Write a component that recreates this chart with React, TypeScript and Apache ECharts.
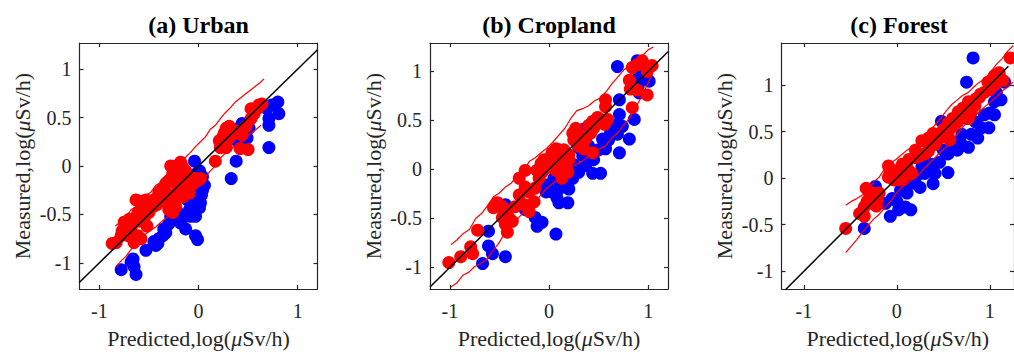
import React, { useEffect, useRef } from "react";
import * as echarts from "echarts";

const titles = ["(a) Urban", "(b) Cropland", "(c) Forest"];
const xTicks = [-1, 0, 1];
const yTicks = [-1, -0.5, 0, 0.5, 1];
const xRanges = [[-1.2, 1.2], [-1.2, 1.2], [-1.24, 1.26]];
const yRanges = [[-1.27, 1.27], [-1.22, 1.29], [-1.19, 1.45]];
const diagonal = [[-1.2, -1.2], [1.2, 1.2]];

const urbanRed = [
  [-0.87, -0.8], [-0.83, -0.79], [-0.78, -0.72], [-0.75, -0.69], [-0.71, -0.62], [-0.68, -0.59], [-0.65, -0.54],
  [-0.61, -0.48], [-0.58, -0.45], [-0.63, -0.35], [-0.58, -0.37], [-0.53, -0.35], [-0.5, -0.38], [-0.55, -0.45],
  [-0.6, -0.57], [-0.61, -0.72], [-0.58, -0.75], [-0.65, -0.79], [-0.71, -0.72], [-0.68, -0.64], [-0.77, -0.67],
  [-0.5, -0.48], [-0.46, -0.42], [-0.41, -0.32], [-0.4, -0.27], [-0.36, -0.23], [-0.33, -0.18], [-0.3, -0.15],
  [-0.26, -0.08], [-0.28, 0.0], [-0.23, 0.0], [-0.18, 0.04], [-0.16, -0.01], [-0.13, -0.05], [-0.19, -0.11],
  [-0.23, -0.18], [-0.14, -0.15], [-0.11, -0.11], [-0.18, -0.25], [-0.24, -0.3], [-0.28, -0.38], [-0.3, -0.45],
  [-0.26, -0.48], [-0.23, -0.42], [-0.16, -0.32], [-0.09, -0.28], [-0.04, -0.13], [-0.01, -0.15], [0.02, -0.13],
  [0.17, 0.05], [0.21, 0.26], [0.24, 0.29], [0.26, 0.34], [0.28, 0.39], [0.31, 0.41], [0.34, 0.32], [0.22, 0.19],
  [0.28, 0.19], [0.42, 0.18], [0.5, 0.17], [0.48, 0.41], [0.53, 0.49], [0.56, 0.54], [0.53, 0.59], [0.61, 0.63],
  [0.64, 0.64], [0.38, 0.36], [0.44, 0.32],
  [-0.45, -0.35], [-0.42, -0.4], [-0.38, -0.3], [-0.35, -0.36], [-0.32, -0.28], [-0.2, -0.3], [-0.12, -0.2],
  [-0.08, -0.12], [-0.05, -0.18], [-0.2, -0.05], [-0.7, -0.55], [-0.75, -0.58], [-0.55, -0.55], [-0.52, -0.62],
  [0.25, 0.25], [0.3, 0.28], [0.6, 0.6],
];
const urbanBlue = [
  [-0.78, -1.07], [-0.68, -0.99], [-0.65, -1.04], [-0.63, -1.12], [-0.66, -0.96], [-0.53, -0.87], [-0.43, -0.82],
  [-0.4, -0.75], [-0.36, -0.72], [-0.33, -0.69], [-0.41, -0.8], [-0.3, -0.6], [-0.28, -0.52], [-0.26, -0.45],
  [-0.21, -0.48], [-0.18, -0.59], [-0.13, -0.65], [-0.03, -0.72], [-0.01, -0.76], [-0.04, 0.05], [0.01, -0.05],
  [0.04, -0.11], [0.02, -0.18], [-0.01, -0.25], [0.01, -0.32], [-0.03, -0.38], [-0.06, -0.42], [-0.09, -0.45],
  [-0.11, -0.35], [-0.06, -0.28], [0.04, -0.25], [0.06, -0.2], [0.01, -0.43], [-0.08, -0.52], [-0.14, -0.52],
  [-0.03, -0.52], [0.38, 0.05], [0.33, -0.13], [0.41, 0.39], [0.44, 0.44], [0.44, 0.29], [0.39, 0.26],
  [0.51, 0.39], [0.46, 0.21], [0.71, 0.19], [0.71, 0.42], [0.71, 0.49], [0.74, 0.63], [0.8, 0.66], [0.81, 0.54],
  [0.69, 0.59], [0.49, 0.29],
  [-0.02, -0.08], [0.0, -0.15], [0.03, -0.3], [-0.04, -0.35], [-0.08, -0.33], [0.02, -0.38], [-0.05, -0.47],
  [-0.1, -0.5], [-0.2, -0.55], [-0.35, -0.65], [-0.45, -0.78], [0.45, 0.35], [0.42, 0.25],
];
const urbanUpper = [
  [-0.84, -0.62], [-0.8, -0.59], [-0.76, -0.53], [-0.72, -0.51], [-0.68, -0.45], [-0.63, -0.42], [-0.58, -0.37],
  [-0.53, -0.3], [-0.48, -0.27], [-0.43, -0.2], [-0.38, -0.17], [-0.33, -0.1], [-0.28, -0.06], [-0.23, 0.0],
  [-0.18, 0.05], [-0.13, 0.09], [-0.08, 0.14], [-0.03, 0.2], [0.02, 0.25], [0.07, 0.3], [0.12, 0.38], [0.17, 0.42],
  [0.22, 0.49], [0.27, 0.55], [0.32, 0.6], [0.37, 0.66], [0.42, 0.7], [0.47, 0.74], [0.52, 0.78], [0.57, 0.82],
  [0.62, 0.86], [0.66, 0.9],
];
const urbanLower = [
  [-0.83, -1.04], [-0.78, -0.98], [-0.73, -0.93], [-0.68, -0.86], [-0.63, -0.8], [-0.58, -0.76], [-0.53, -0.7],
  [-0.48, -0.66], [-0.43, -0.63], [-0.38, -0.58], [-0.33, -0.54], [-0.28, -0.48], [-0.23, -0.42], [-0.18, -0.37],
  [-0.13, -0.31], [-0.08, -0.27], [-0.03, -0.21], [0.02, -0.17], [0.07, -0.11], [0.12, -0.05], [0.17, 0.0],
  [0.22, 0.08], [0.27, 0.13], [0.32, 0.17], [0.37, 0.21], [0.42, 0.24], [0.47, 0.29], [0.52, 0.33], [0.57, 0.37],
  [0.63, 0.42],
];

const croplandRed = [
  [-1.01, -0.95], [-0.89, -0.89], [-0.79, -0.79], [-0.77, -0.86], [-0.72, -0.62], [-0.56, -0.39], [-0.52, -0.34],
  [-0.47, -0.38], [-0.42, -0.43], [-0.47, -0.49], [-0.44, -0.56], [-0.42, -0.64], [-0.37, -0.53], [-0.34, -0.38],
  [-0.3, -0.26], [-0.24, -0.18], [-0.2, -0.23], [-0.15, -0.33], [-0.14, -0.19], [-0.1, -0.09], [-0.07, -0.03],
  [-0.03, 0.04], [0.0, 0.11], [0.03, 0.17], [0.07, 0.21], [0.13, 0.14], [0.17, 0.04], [0.19, -0.03], [0.1, 0.07],
  [0.07, -0.01], [0.13, -0.09], [-0.08, 0.06], [-0.12, -0.01], [-0.24, -0.01], [-0.3, -0.09], [0.24, 0.37],
  [0.27, 0.42], [0.3, 0.34], [0.37, 0.31], [0.42, 0.37], [0.44, 0.49], [0.49, 0.53], [0.52, 0.51], [0.56, 0.46],
  [0.59, 0.51], [0.35, 0.21], [0.3, 0.24], [0.44, 0.17], [0.57, 0.71], [0.57, 0.64], [0.81, 0.91], [0.82, 0.82],
  [0.84, 1.04], [0.89, 1.07], [0.94, 1.11], [1.04, 1.06], [0.99, 1.0], [0.89, 0.81], [0.84, 0.63], [0.99, 0.76],
  [-0.2, -0.43], [-0.25, -0.36],
  [-0.45, -0.45], [-0.4, -0.5], [-0.05, 0.0], [0.0, 0.05], [0.05, 0.1], [0.1, 0.2], [0.15, 0.2], [0.2, 0.15],
  [0.25, 0.3], [0.35, 0.35], [0.4, 0.45], [0.45, 0.42], [-0.05, 0.1], [0.15, 0.0], [0.2, 0.1],
];
const croplandBlue = [
  [-0.67, -0.96], [-0.61, -0.78], [-0.57, -0.86], [-0.44, -0.89], [-0.61, -0.63], [-0.44, -0.36], [-0.24, -0.41],
  [-0.14, -0.49], [-0.12, -0.58], [-0.07, -0.54], [0.07, -0.66], [-0.03, -0.23], [-0.02, -0.16], [0.03, -0.23],
  [0.08, -0.29], [0.1, -0.34], [0.19, -0.34], [0.05, -0.09], [0.12, -0.16], [-0.12, -0.01], [0.17, -0.13],
  [0.24, -0.09], [0.3, -0.03], [0.37, 0.04], [0.44, -0.04], [0.52, -0.04], [0.34, 0.14], [0.3, 0.22], [0.4, 0.24],
  [0.35, 0.41], [0.54, 0.31], [0.57, 0.21], [0.62, 0.37], [0.69, 0.36], [0.81, 0.31], [0.71, 0.17], [0.74, 0.44],
  [0.71, 0.56], [0.86, 0.51], [0.91, 0.78], [1.01, 0.9], [0.98, 0.94], [0.91, 0.97], [0.69, 1.05], [0.89, 1.11],
  [0.71, 0.71],
  [0.1, -0.2], [0.2, -0.2], [0.25, 0.05], [0.45, 0.1], [0.5, 0.2], [0.6, 0.3], [0.65, 0.45], [0.9, 0.85],
  [0.95, 1.0],
];
const croplandUpper = [
  [-0.99, -0.77], [-0.93, -0.72], [-0.86, -0.65], [-0.8, -0.61], [-0.74, -0.5], [-0.68, -0.45], [-0.62, -0.37],
  [-0.56, -0.28], [-0.5, -0.24], [-0.44, -0.18], [-0.38, -0.14], [-0.32, -0.06], [-0.26, -0.02], [-0.2, 0.08],
  [-0.14, 0.12], [-0.08, 0.17], [-0.02, 0.22], [0.04, 0.28], [0.1, 0.35], [0.16, 0.42], [0.22, 0.52], [0.28, 0.6],
  [0.34, 0.62], [0.4, 0.65], [0.46, 0.7], [0.52, 0.73], [0.58, 0.8], [0.64, 0.88], [0.7, 0.95], [0.76, 1.02],
  [0.82, 1.07], [0.88, 1.12], [0.94, 1.16], [1.0, 1.22], [1.05, 1.25],
];
const croplandLower = [
  [-0.99, -1.2], [-0.93, -1.16], [-0.87, -1.08], [-0.81, -1.05], [-0.75, -0.99], [-0.69, -0.96], [-0.63, -0.92],
  [-0.57, -0.83], [-0.51, -0.76], [-0.45, -0.66], [-0.39, -0.6], [-0.33, -0.52], [-0.27, -0.45], [-0.21, -0.4],
  [-0.15, -0.35], [-0.09, -0.27], [-0.03, -0.2], [0.03, -0.15], [0.09, -0.1], [0.15, -0.06], [0.21, 0.01],
  [0.27, 0.05], [0.33, 0.08], [0.39, 0.13], [0.45, 0.17], [0.51, 0.21], [0.57, 0.24], [0.63, 0.32], [0.69, 0.37],
  [0.75, 0.45], [0.81, 0.52], [0.87, 0.62], [0.93, 0.74], [0.98, 0.84], [1.04, 0.97],
];

const forestRed = [
  [-0.55, -0.54], [-0.4, -0.38], [-0.35, -0.41], [-0.33, -0.11], [-0.3, -0.15], [-0.26, -0.16], [-0.32, -0.25],
  [-0.26, -0.27], [-0.21, -0.24], [-0.19, -0.16], [-0.35, -0.31], [-0.09, 0.13], [-0.07, 0.06], [-0.01, 0.08],
  [-0.09, 0.01], [-0.03, -0.02], [0.04, -0.02], [0.07, 0.01], [0.06, 0.15], [0.09, 0.1], [0.13, 0.08], [0.16, 0.05],
  [0.13, 0.2], [0.2, 0.22], [0.25, 0.24], [0.3, 0.26], [0.34, 0.29], [0.27, 0.4], [0.34, 0.43], [0.39, 0.48],
  [0.48, 0.47], [0.41, 0.36], [0.55, 0.47], [0.57, 0.41], [0.6, 0.64], [0.66, 0.71], [0.71, 0.75], [0.77, 0.82],
  [0.8, 0.71], [0.84, 0.78], [0.89, 0.87], [0.94, 0.92], [0.98, 1.03], [1.05, 1.1], [1.1, 1.13], [1.14, 1.05],
  [0.77, 0.64], [0.7, 0.68], [1.22, 1.29], [0.55, 0.59], [0.5, 0.52],
  [0.0, 0.05], [0.05, 0.1], [0.1, 0.15], [0.2, 0.3], [0.35, 0.35], [0.45, 0.42], [0.6, 0.55], [0.65, 0.6],
  [0.75, 0.7], [0.85, 0.85], [0.9, 0.9], [1.0, 0.95], [1.05, 1.0], [-0.28, -0.2], [-0.22, -0.3],
];
const forestBlue = [
  [-0.35, -0.54], [-0.23, -0.09], [-0.07, -0.41], [0.02, -0.34], [0.09, -0.31], [0.15, -0.34], [0.0, -0.25],
  [0.11, -0.16], [0.04, -0.13], [0.2, -0.06], [0.22, 0.03], [0.27, 0.12], [0.3, 0.05], [0.39, -0.06], [0.41, 0.05],
  [0.38, 0.15], [0.46, 0.17], [0.55, 0.06], [0.55, 0.26], [0.59, 0.33], [0.62, 0.36], [0.68, 0.4], [0.7, 0.47],
  [0.77, 0.33], [0.8, 0.47], [0.91, 0.54], [0.87, 0.43], [0.99, 0.54], [0.94, 0.68], [1.05, 0.68], [1.05, 0.82],
  [1.12, 0.84], [1.07, 0.92], [0.75, 1.03], [0.82, 1.29], [0.75, 0.64], [0.48, 0.61], [1.16, 1.03], [-0.12, -0.27],
  [-0.05, -0.22],
  [0.3, 0.2], [0.5, 0.3], [0.65, 0.3], [0.7, 0.35], [0.85, 0.6], [1.0, 0.7], [0.15, -0.05], [0.25, -0.1],
];
const forestUpper = [
  [-0.55, -0.29], [-0.49, -0.25], [-0.43, -0.22], [-0.37, -0.18], [-0.31, -0.14], [-0.25, -0.04], [-0.19, 0.01],
  [-0.13, 0.1], [-0.07, 0.16], [-0.01, 0.2], [0.05, 0.25], [0.11, 0.3], [0.17, 0.34], [0.23, 0.38], [0.29, 0.45],
  [0.35, 0.51], [0.41, 0.57], [0.47, 0.64], [0.53, 0.72], [0.59, 0.79], [0.65, 0.84], [0.71, 0.89], [0.77, 0.92],
  [0.83, 0.98], [0.89, 1.03], [0.95, 1.07], [1.01, 1.14], [1.07, 1.22], [1.13, 1.28], [1.19, 1.36], [1.25, 1.42],
];
const forestLower = [
  [-0.55, -0.8], [-0.49, -0.73], [-0.43, -0.66], [-0.37, -0.58], [-0.31, -0.51], [-0.25, -0.44], [-0.19, -0.39],
  [-0.13, -0.32], [-0.07, -0.25], [-0.01, -0.17], [0.05, -0.1], [0.11, -0.06], [0.17, -0.01], [0.23, 0.03],
  [0.29, 0.1], [0.35, 0.16], [0.41, 0.22], [0.47, 0.28], [0.53, 0.33], [0.59, 0.4], [0.65, 0.47], [0.71, 0.55],
  [0.77, 0.61], [0.83, 0.66], [0.89, 0.71], [0.95, 0.77], [1.01, 0.82], [1.07, 0.87], [1.13, 0.93], [1.19, 0.98],
  [1.25, 1.03],
];

const panelRed = [urbanRed, croplandRed, forestRed];
const panelBlue = [urbanBlue, croplandBlue, forestBlue];
const panelUpper = [urbanUpper, croplandUpper, forestUpper];
const panelLower = [urbanLower, croplandLower, forestLower];

const FONT = "'Liberation Serif', 'Times New Roman', serif";
const INK = "#262626";
const GRIDS = [
  { left: 79.5, top: 43, width: 238, height: 251 },
  { left: 430, top: 43, width: 238, height: 251 },
  { left: 781.5, top: 43, width: 235, height: 251 },
];

export default function App() {
  const ref = useRef<HTMLDivElement>(null);
  useEffect(() => {
    if (!ref.current) return;
    const chart = echarts.init(ref.current, null, { renderer: "svg" });
    const xAxis: any[] = [];
    const yAxis: any[] = [];
    const series: any[] = [];
    const graphic: any[] = [];
    const lineStyle = { color: INK, width: 1.2 };
    const nameStyle = {
      fontFamily: FONT,
      fontSize: 22,
      color: INK,
      rich: { i: { fontFamily: FONT, fontSize: 22, fontStyle: "italic", color: INK } },
    };
    GRIDS.forEach((g, i) => {
      const tickCommon = { show: true, inside: true, length: 4, lineStyle };
      xAxis.push({
        type: "value", gridIndex: i, min: xRanges[i][0], max: xRanges[i][1], position: "bottom",
        axisLine: { show: true, onZero: false, lineStyle },
        axisTick: { ...tickCommon, customValues: xTicks },
        axisLabel: { customValues: xTicks, fontFamily: FONT, fontSize: 20, color: INK, margin: 12 },
        splitLine: { show: false },
        name: "Predicted,log({i|μ}Sv/h)", nameLocation: "middle", nameGap: 38, nameTextStyle: nameStyle,
      });
      xAxis.push({
        type: "value", gridIndex: i, min: xRanges[i][0], max: xRanges[i][1], position: "top",
        axisLine: { show: true, onZero: false, lineStyle },
        axisTick: { ...tickCommon, customValues: xTicks },
        axisLabel: { show: false }, splitLine: { show: false },
      });
      yAxis.push({
        type: "value", gridIndex: i, min: yRanges[i][0], max: yRanges[i][1], position: "left",
        axisLine: { show: true, onZero: false, lineStyle },
        axisTick: { ...tickCommon, customValues: yTicks },
        axisLabel: { customValues: yTicks, fontFamily: FONT, fontSize: 20, color: INK, margin: 8 },
        splitLine: { show: false },
        name: "Measured,log({i|μ}Sv/h)", nameLocation: "middle", nameGap: 46, nameTextStyle: nameStyle,
      });
      yAxis.push({
        type: "value", gridIndex: i, min: yRanges[i][0], max: yRanges[i][1], position: "right",
        axisLine: { show: true, onZero: false, lineStyle },
        axisTick: { ...tickCommon, customValues: yTicks },
        axisLabel: { show: false }, splitLine: { show: false },
      });
      const xi = i * 2;
      const yi = i * 2;
      series.push({
        type: "scatter", xAxisIndex: xi, yAxisIndex: yi, data: panelBlue[i], symbolSize: 13,
        itemStyle: { color: "#0000ff", opacity: 1 }, z: 2,
      });
      series.push({
        type: "scatter", xAxisIndex: xi, yAxisIndex: yi, data: panelRed[i], symbolSize: 13,
        itemStyle: { color: "#ff0000", opacity: 1 }, z: 3,
      });
      [panelUpper[i], panelLower[i]].forEach((d) => {
        series.push({
          type: "line", xAxisIndex: xi, yAxisIndex: yi, data: d, symbol: "none", showSymbol: false,
          lineStyle: { color: "#ff0000", width: 1.2 }, z: 4,
        });
      });
      series.push({
        type: "line", xAxisIndex: xi, yAxisIndex: yi, data: diagonal, symbol: "none", showSymbol: false,
        lineStyle: { color: "#000000", width: 1.5 }, z: 5,
      });
      graphic.push({
        type: "text", x: g.left + g.width / 2, y: 25,
        style: { text: titles[i], font: `bold 24px ${FONT}`, fill: "#000", align: "center", verticalAlign: "middle" },
      });
    });
    chart.setOption({
      animation: false,
      grid: GRIDS.map((g) => ({ ...g, containLabel: false })),
      xAxis,
      yAxis,
      series,
      graphic,
    });
    return () => chart.dispose();
  }, []);
  return (
    <div
      ref={ref}
      style={{ position: "absolute", left: 0, top: 0, width: 1014, height: 354, background: "#fff" }}
    />
  );
}
